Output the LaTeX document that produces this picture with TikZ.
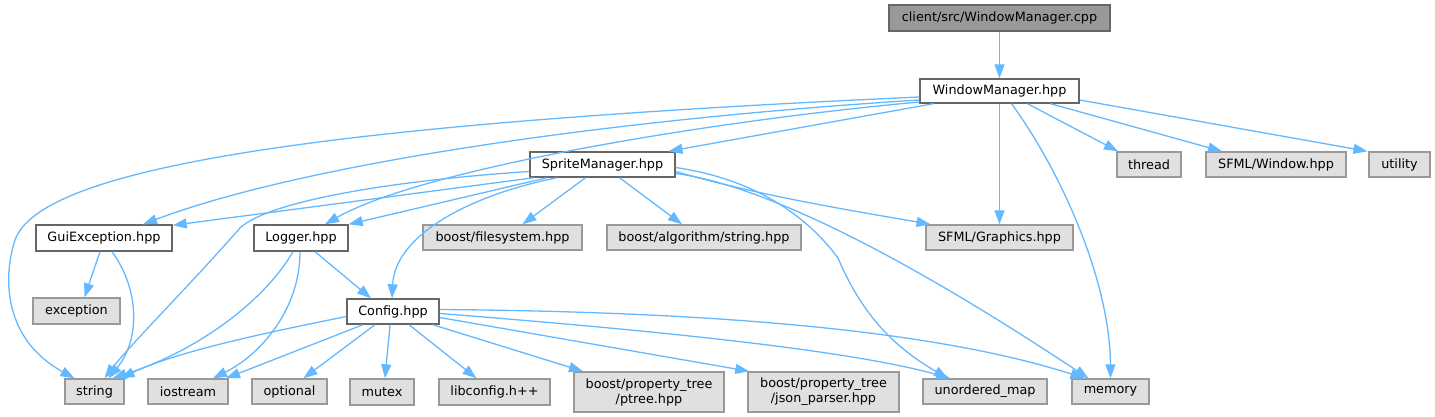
\documentclass[tikz,border=0pt]{standalone}
\usepackage{fontspec}
\setmainfont{DejaVu Sans}
\usetikzlibrary{arrows.meta}
\definecolor{edgeblue}{HTML}{63B8FF}
\definecolor{greyfill}{HTML}{E0E0E0}
\definecolor{greyline}{HTML}{999999}
\definecolor{darkline}{HTML}{666666}
\begin{document}
\begin{tikzpicture}[x=1pt,y=-1pt,
  box/.style={draw=darkline,fill=white,line width=1.4pt,minimum height=25pt,inner sep=0pt,
    font=\fontsize{12.8}{15}\selectfont,align=center},
  sysbox/.style={box,draw=greyline,fill=greyfill},
  rootbox/.style={box,fill=greyline,draw=darkline},
  dep/.style={draw=edgeblue,line width=1.3pt,-{Triangle[length=14pt,width=10pt]}}]
\useasboundingbox (0,0) rectangle (1435,417);
% nodes
\node[rootbox,minimum width=221pt,minimum height=26pt] (root) at (999.5,18) {client/src/WindowManager.cpp};
\node[box,minimum width=159pt,minimum height=24pt] (wm) at (999.5,91) {WindowManager.hpp};
\node[box,minimum width=145pt] (sm) at (602.5,164.5) {SpriteManager.hpp};
\node[sysbox,minimum width=64pt] (thread) at (1149,164.5) {thread};
\node[sysbox,minimum width=140pt] (sfwin) at (1276,164.5) {SFML/Window.hpp};
\node[sysbox,minimum width=61pt] (utility) at (1399.5,164.5) {utility};
\node[box,minimum width=136pt,minimum height=26pt] (guiex) at (104,238) {GuiException.hpp};
\node[box,minimum width=94pt,minimum height=26pt] (logger) at (301,238) {Logger.hpp};
\node[sysbox,minimum width=159pt] (fs) at (502.5,237.5) {boost/filesystem.hpp};
\node[sysbox,minimum width=194pt] (algo) at (704,237.5) {boost/algorithm/string.hpp};
\node[sysbox,minimum width=147pt] (sfgfx) at (999.5,237.5) {SFML/Graphics.hpp};
\node[sysbox,minimum width=87pt,minimum height=26pt] (exception) at (76.5,311) {exception};
\node[box,minimum width=92pt] (config) at (393,311.5) {Config.hpp};
\node[sysbox,minimum width=59pt] (string) at (94.5,391.5) {string};
\node[sysbox,minimum width=80pt] (iostream) at (188,391.5) {iostream};
\node[sysbox,minimum width=75pt] (optional) at (289.5,391.5) {optional};
\node[sysbox,minimum width=64pt,minimum height=26pt] (mutex) at (382,392) {mutex};
\node[sysbox,minimum width=111pt,minimum height=26pt] (libconfig) at (494.5,392) {libconfig.h++};
\node[sysbox,minimum width=150pt,minimum height=40pt] (ptree) at (649,392) {boost/property\_tree\\/ptree.hpp};
\node[sysbox,minimum width=151pt,minimum height=40pt] (json) at (823.5,392) {boost/property\_tree\\/json\_parser.hpp};
\node[sysbox,minimum width=124pt] (umap) at (985,391.5) {unordered\_map};
\node[sysbox,minimum width=77pt] (memory) at (1110.5,391.5) {memory};
% edges from root
\draw[dep] (root.south) -- (wm.north);
% WindowManager.hpp
\draw[dep] ([yshift=-6pt]wm.west) .. controls (300,125) and (40,170) .. (15,240)
  .. controls (2,280) and (5,340) .. ([xshift=-20pt]string.north);
\draw[dep] ([yshift=-9pt]wm.west) .. controls (600,120) and (300,165) .. ([xshift=39pt]guiex.north);
\draw[dep] ([yshift=-11pt]wm.west) .. controls (700,122) and (420,170) .. ([xshift=24pt]logger.north);
\draw[dep] ([xshift=-66pt]wm.south) -- ([xshift=66pt]sm.north);
\draw[dep] (wm.south) -- (sfgfx.north);
\draw[dep] ([xshift=12pt]wm.south) .. controls (1060,170) and (1110,280) .. (memory.north);
\draw[dep] ([xshift=28pt]wm.south) -- ([xshift=-31pt]thread.north);
\draw[dep] ([xshift=51pt]wm.south) -- ([xshift=-54pt]sfwin.north);
\draw[dep] ([yshift=-9pt]wm.east) -- ([xshift=-32pt]utility.north);
% SpriteManager.hpp
\draw[dep] ([xshift=5pt]sm.south west) -- ([yshift=-1pt]guiex.north east);
\draw[dep] ([xshift=18pt]sm.south west) -- (logger.north east);
\draw[dep] ([yshift=-7pt]sm.west) .. controls (400,180) and (270,200) .. (240,228)
  .. controls (190,285) and (130,345) .. ([xshift=10pt]string.north);
\draw[dep] ([xshift=28pt]sm.south west) .. controls (470,195) and (395,235) .. ([xshift=-1pt]config.north);
\draw[dep] ([xshift=-17pt]sm.south) -- ([xshift=20pt]fs.north);
\draw[dep] ([xshift=17pt]sm.south) -- ([xshift=-22pt]algo.north);
\draw[dep] ([yshift=-7pt]sm.east) .. controls (760,196) and (860,212) .. ([xshift=-69pt]sfgfx.north);
\draw[dep] ([yshift=-3pt]sm.east) .. controls (760,180) and (810,220) .. (838,258)
  .. controls (860,310) and (890,345) .. ([xshift=-37pt]umap.north);
\draw[dep] ([yshift=-9pt]sm.east) .. controls (800,190) and (1000,320) .. ([xshift=-22pt]memory.north);
% GuiException.hpp
\draw[dep] ([xshift=-4pt]guiex.south) -- ([xshift=8pt]exception.north);
\draw[dep] ([xshift=8pt]guiex.south) .. controls (140,290) and (140,340) .. ([xshift=14pt]string.north);
% Logger.hpp
\draw[dep] ([xshift=14pt]logger.south) -- ([xshift=-22pt]config.north);
\draw[dep] ([xshift=-8pt]logger.south) .. controls (265,300) and (200,350) .. ([xshift=18pt]string.north);
\draw[dep] ([xshift=-1pt]logger.south) .. controls (300,310) and (260,355) .. ([xshift=25pt]iostream.north);
% Config.hpp
\draw[dep] ([yshift=-5pt]config.west) .. controls (280,330) and (180,350) .. ([xshift=26pt]string.north);
\draw[dep] ([xshift=-30pt]config.south) -- ([xshift=38pt]iostream.north);
\draw[dep] ([xshift=-18pt]config.south) -- ([xshift=14pt]optional.north);
\draw[dep] ([xshift=-3pt]config.south) -- ([xshift=3pt]mutex.north);
\draw[dep] ([xshift=16pt]config.south) -- ([xshift=-18pt]libconfig.north);
\draw[dep] ([xshift=-7pt]config.south east) -- ([xshift=-66pt]ptree.north);
\draw[dep] ([yshift=-6pt]config.east) -- ([xshift=2pt]json.north west);
\draw[dep] ([yshift=-2pt]config.east) .. controls (650,330) and (850,350) .. ([xshift=-35pt]umap.north);
\draw[dep] ([yshift=2pt]config.east) .. controls (750,312) and (950,335) .. ([xshift=-26pt]memory.north);
\end{tikzpicture}
\end{document}
